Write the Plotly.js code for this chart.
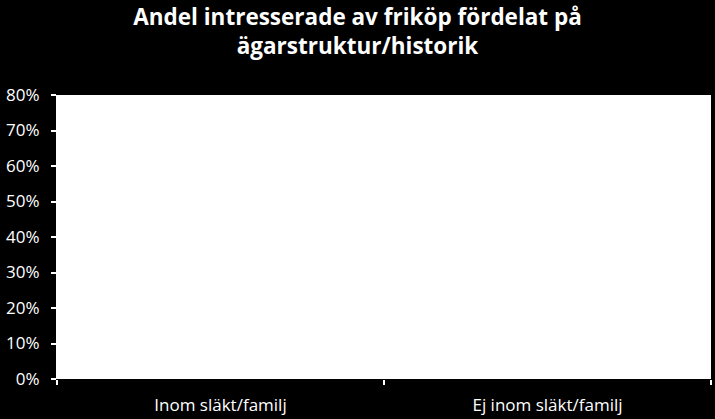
<!DOCTYPE html>
<html>
<head>
<meta charset="utf-8">
<script src="https://cdn.plot.ly/plotly-3.0.1.min.js"></script>
<style>
  html, body {margin: 0; padding: 0; background: #000000;}
  #chart {width: 715px; height: 419px;}
</style>
</head>
<body>
<div id="chart"></div>
<script>
// no visible bars in the picture: white bars on the white plot area
var categories = ['Inom släkt/familj', 'Ej inom släkt/familj']
var andel = [0, 0]
var yticks = [0, 0.1, 0.2, 0.3, 0.4, 0.5, 0.6, 0.7, 0.8]

var trace1 = {
  x: categories,
  y: andel,
  type: 'bar',
  marker: {color: '#ffffff'},
  hoverinfo: 'skip'
}

var layout = {
  width: 715,
  height: 419,
  margin: {l: 57, r: 4, t: 95, b: 40, pad: 0},
  paper_bgcolor: '#000000',
  plot_bgcolor: '#ffffff',
  font: {family: 'Open Sans, sans-serif', color: '#ffffff', size: 16},
  showlegend: false,
  title: {
    text: '<b>Andel intresserade av friköp fördelat på<br>ägarstruktur/historik</b>',
    font: {size: 22.5, color: '#ffffff', family: 'Open Sans, sans-serif'},
    x: 0.5,
    xanchor: 'center',
    yref: 'container',
    y: 0.94,
    yanchor: 'middle'
  },
  xaxis: {
    type: 'category',
    tickson: 'boundaries',
    ticks: 'outside',
    ticklen: 5,
    tickwidth: 2,
    tickcolor: '#ffffff',
    showgrid: false,
    showline: false,
    zeroline: false,
    ticklabelstandoff: 14,
    tickfont: {size: 17, color: '#ffffff'}
  },
  yaxis: {
    range: [0, 0.8],
    tickvals: yticks,
    tickformat: '.0%',
    ticks: 'outside',
    ticklen: 5,
    tickwidth: 2,
    tickcolor: '#ffffff',
    showgrid: false,
    showline: true,
    linecolor: '#ffffff',
    zeroline: false,
    ticklabelstandoff: 8,
    tickfont: {size: 17, color: '#ffffff'}
  }
}

Plotly.newPlot('chart', [trace1], layout, {displayModeBar: false, staticPlot: true})
</script>
</body>
</html>
